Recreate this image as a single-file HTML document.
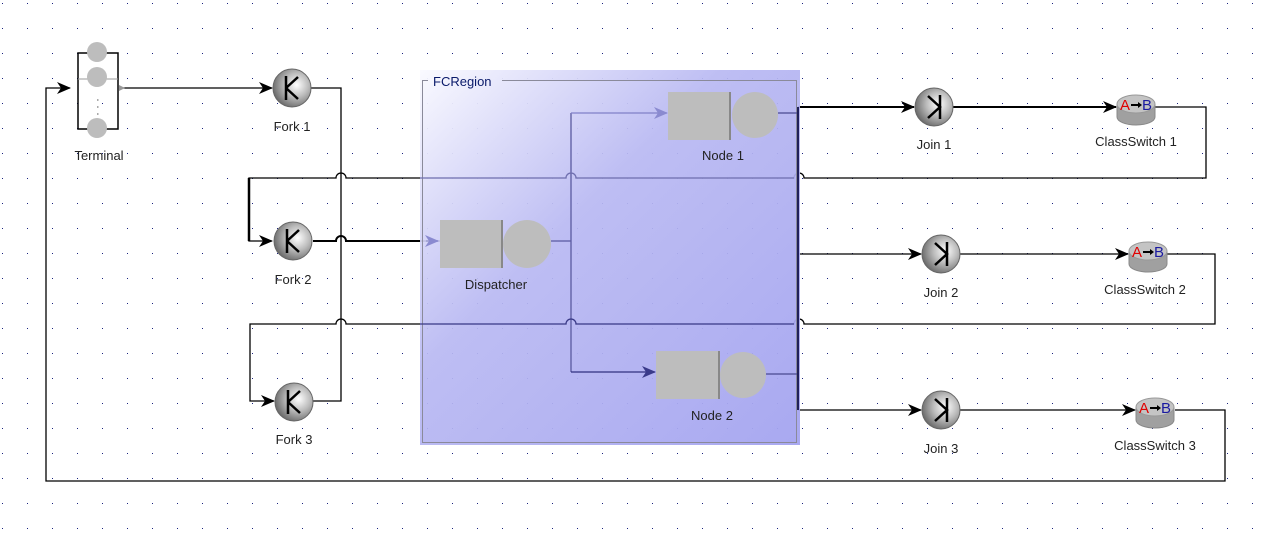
<!DOCTYPE html>
<html><head><style>
html,body{margin:0;padding:0;background:#fff;}
svg{display:block;font-family:"Liberation Sans",sans-serif;}
</style></head><body>
<svg width="1263" height="537" viewBox="0 0 1263 537" xmlns="http://www.w3.org/2000/svg">
<defs>
<pattern id="dots" x="2" y="3" width="25" height="25" patternUnits="userSpaceOnUse">
<rect x="0" y="0" width="1" height="1" fill="#1a237e"/>
</pattern>
<linearGradient id="reg" x1="0" y1="0" x2="1" y2="1">
<stop offset="0" stop-color="#fafaff" stop-opacity="0.95"/>
<stop offset="0.4" stop-color="#b8b8f2" stop-opacity="0.92"/>
<stop offset="1" stop-color="#a4a4f0" stop-opacity="0.95"/>
</linearGradient>
<radialGradient id="ball" cx="0.62" cy="0.42" r="0.7">
<stop offset="0" stop-color="#ffffff"/>
<stop offset="0.45" stop-color="#bcbcbc"/>
<stop offset="1" stop-color="#5a5a5a"/>
</radialGradient>
<marker id="ar" markerWidth="14" markerHeight="12" refX="13" refY="6" orient="auto" markerUnits="userSpaceOnUse">
<path d="M0,0 L14,6 L0,12 L4,6 Z" fill="#000"/>
</marker>
<marker id="arb" markerWidth="14" markerHeight="12" refX="13" refY="6" orient="auto" markerUnits="userSpaceOnUse">
<path d="M0,0 L14,6 L0,12 L4,6 Z" fill="#3a3a8a"/>
</marker>
<marker id="arl" markerWidth="14" markerHeight="12" refX="13" refY="6" orient="auto" markerUnits="userSpaceOnUse">
<path d="M0,0 L14,6 L0,12 L4,6 Z" fill="#8a8ad0"/>
</marker>
<g id="fork">
<circle r="19" fill="url(#ball)" stroke="#666" stroke-width="1"/>
<path d="M-6,-12 V12 M-6,0 L6,-11 M-6,0 L6,11" stroke="#000" stroke-width="2.5" fill="none"/>
</g>
<g id="join">
<circle r="19" fill="url(#ball)" stroke="#666" stroke-width="1"/>
<path d="M6,-12 V12 M-6,-11 L6,0 L-6,11" stroke="#000" stroke-width="2.5" fill="none"/>
</g>
<g id="cs">
<path d="M-19,-3 V10 A19,8 0 0 0 19,10 V-3" fill="#a0a0a0" stroke="#888"/>
<ellipse cx="0" cy="-3" rx="19" ry="9" fill="#c4c4c4" stroke="#999"/>
<text x="-11" y="3" font-size="15" fill="#e00000" text-anchor="middle">A</text>
<text x="11" y="3" font-size="15" fill="#1a1aa0" text-anchor="middle">B</text>
<path d="M-5,-2 H3" stroke="#000" stroke-width="2"/><path d="M2,-5 L6,-2 L2,1Z" fill="#000"/>
</g>
</defs>
<rect width="1263" height="537" fill="url(#dots)"/>

<g fill="none" stroke="#000" stroke-width="1.3">
<path d="M1175,410 H1225 V481 H46 V88 H70" marker-end="url(#ar)"/>
<path d="M122,88 H272" marker-end="url(#ar)"/>
<path d="M311,88 H341 V401 H313"/>
<path d="M313,241 H336 a5,5 0 0 1 10,0 H440" stroke-width="2"/>
<path d="M1155,107 H1206 V178 H804 a5,5 0 0 0 -10,0 H576 a5,5 0 0 0 -10,0 H346 a5,5 0 0 0 -10,0 H249 V241 H272" marker-end="url(#ar)"/>
<path d="M249,178 V241" stroke-width="2.5"/>
<path d="M1167,254 H1215 V324 H804 a5,5 0 0 0 -10,0 H576 a5,5 0 0 0 -10,0 H346 a5,5 0 0 0 -10,0 H250 V401 H274" marker-end="url(#ar)"/>
<path d="M798,107 V410" stroke="#20205a" stroke-width="2"/>
<path d="M798,107 H914" marker-end="url(#ar)" stroke-width="2"/>
<path d="M953,107 H1116" marker-end="url(#ar)" stroke-width="2"/>
<path d="M798,254 H921" marker-end="url(#ar)"/>
<path d="M960,254 H1128" marker-end="url(#ar)"/>
<path d="M798,410 H921" marker-end="url(#ar)"/>
<path d="M960,410 H1135" marker-end="url(#ar)"/>
</g>

<rect x="420" y="70" width="380" height="375" fill="url(#reg)"/>
<path d="M428,80.5 H422.5 V442.5 H796.5 V80.5 H502" fill="none" stroke="#8a8a9a" stroke-width="1"/>
<text x="433" y="86" font-size="13" fill="#0a1a6a">FCRegion</text>
<path d="M426,241 H438" stroke="#a8a8d8" stroke-width="2" marker-end="url(#arl)"/>
<g fill="none" stroke-width="1.3">
<path d="M571,113 V372 M551,241 H571" stroke="#5a5aa0"/>
<path d="M571,113 H667" stroke="#8080c8" marker-end="url(#arl)"/>
<path d="M571,372 H655" stroke="#303080" marker-end="url(#arb)"/>
<path d="M778,113 H797 M766,374 H797" stroke="#4a4a90"/>
<path d="M420,178 H566 a5,5 0 0 1 10,0 H794" stroke="#7070b0"/>
<path d="M420,324 H566 a5,5 0 0 1 10,0 H794" stroke="#3a3a88"/>
<path d="M798,107 V410" stroke="#20205a" stroke-width="2"/>
</g>

<rect x="78" y="53" width="40" height="76" fill="none" stroke="#000" stroke-width="1.5"/>
<line x1="78" y1="79" x2="118" y2="79" stroke="#999"/>
<circle cx="97" cy="52" r="10" fill="#bdbdbd"/>
<circle cx="97" cy="77" r="10" fill="#bdbdbd"/>
<circle cx="97" cy="128" r="10" fill="#bdbdbd"/>
<rect x="97" y="99" width="1.5" height="2" fill="#aaa"/><rect x="97" y="106" width="1.5" height="2" fill="#aaa"/><rect x="97" y="113" width="1.5" height="2" fill="#aaa"/>
<path d="M119,85 L125,88 L119,91Z" fill="#999"/>

<use href="#fork" x="292" y="88"/>
<use href="#fork" x="293" y="241"/>
<use href="#fork" x="294" y="402"/>

<rect x="440" y="220" width="62" height="48" fill="#bdbdbd"/><rect x="501" y="220" width="2" height="48" fill="#888"/>
<circle cx="527" cy="244" r="24" fill="#bdbdbd"/>
<rect x="668" y="92" width="62" height="48" fill="#bdbdbd"/><rect x="729" y="92" width="2" height="48" fill="#888"/>
<circle cx="755" cy="115" r="23" fill="#bdbdbd"/>
<rect x="656" y="351" width="63" height="48" fill="#bdbdbd"/><rect x="718" y="351" width="2" height="48" fill="#888"/>
<circle cx="743" cy="375" r="23" fill="#bdbdbd"/>

<use href="#join" x="934" y="107"/>
<use href="#join" x="941" y="254"/>
<use href="#join" x="941" y="410"/>
<use href="#cs" x="1136" y="107"/>
<use href="#cs" x="1148" y="254"/>
<use href="#cs" x="1155" y="410"/>

<g font-size="13" fill="#222" text-anchor="middle">
<text x="99" y="160">Terminal</text>
<text x="292" y="131">Fork 1</text>
<text x="293" y="284">Fork 2</text>
<text x="294" y="444">Fork 3</text>
<text x="496" y="289">Dispatcher</text>
<text x="723" y="160">Node 1</text>
<text x="712" y="420">Node 2</text>
<text x="934" y="149">Join 1</text>
<text x="941" y="297">Join 2</text>
<text x="941" y="453">Join 3</text>
<text x="1136" y="146">ClassSwitch 1</text>
<text x="1145" y="294">ClassSwitch 2</text>
<text x="1155" y="450">ClassSwitch 3</text>
</g>
</svg>
</body></html>
